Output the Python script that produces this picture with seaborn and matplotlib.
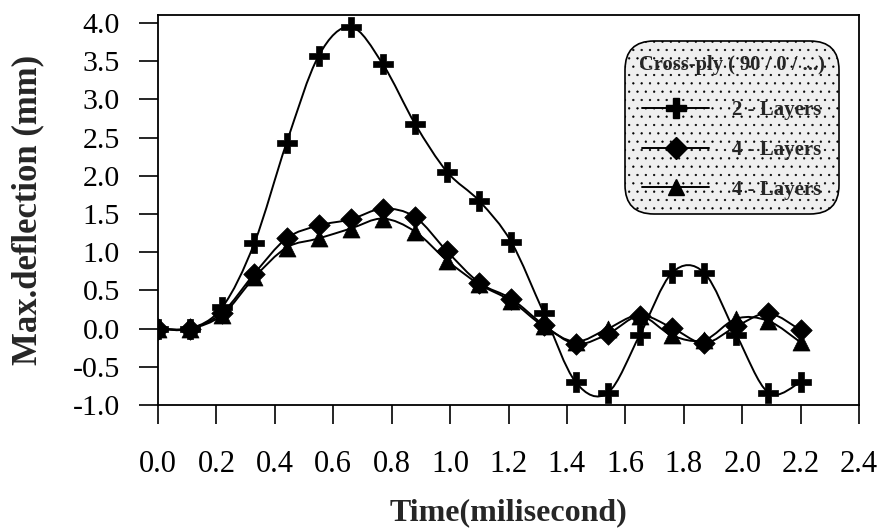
import numpy as np
import pandas as pd
import matplotlib
matplotlib.use("Agg")
import matplotlib.pyplot as plt
import seaborn as sns
from matplotlib.path import Path
from matplotlib.patches import PathPatch
from matplotlib.lines import Line2D

time_ms = [0.0, 0.11, 0.22, 0.33, 0.44, 0.55, 0.66, 0.77, 0.88, 0.99, 1.10,
           1.21, 1.32, 1.43, 1.54, 1.65, 1.76, 1.87, 1.98, 2.09, 2.20]
layers2 = [0.0, 0.0, 0.28, 1.12, 2.43, 3.57, 3.95, 3.46, 2.68, 2.05, 1.67,
           1.13, 0.21, -0.70, -0.84, -0.08, 0.73, 0.73, -0.08, -0.84, -0.70]
layers4a = [0.0, 0.0, 0.21, 0.72, 1.18, 1.35, 1.43, 1.57, 1.46, 1.01, 0.60,
            0.39, 0.05, -0.20, -0.07, 0.17, 0.01, -0.19, 0.03, 0.20, -0.02]
layers4b = [0.0, 0.0, 0.18, 0.67, 1.06, 1.18, 1.31, 1.44, 1.27, 0.89, 0.58,
            0.36, 0.03, -0.17, 0.00, 0.17, -0.09, -0.15, 0.13, 0.10, -0.18]
series_labels = ["2 - Layers", "4 - Layers", "4 - Layers "]
legend_title = "Cross-ply ( 90 / 0 / ...)"
x_ticks = [0.0, 0.2, 0.4, 0.6, 0.8, 1.0, 1.2, 1.4, 1.6, 1.8, 2.0, 2.2, 2.4]
y_ticks = [-1.0, -0.5, 0.0, 0.5, 1.0, 1.5, 2.0, 2.5, 3.0, 3.5, 4.0]

df = pd.DataFrame({
    "time": time_ms * 3,
    "defl": layers2 + layers4a + layers4b,
    "series": [series_labels[0]] * len(time_ms) + [series_labels[1]] * len(time_ms)
              + [series_labels[2]] * len(time_ms),
})

sns.set_theme(style="white")
plt.rcParams["font.family"] = ["Liberation Serif", "DejaVu Serif"]
plt.rcParams["hatch.color"] = "#c8c8c8"
plt.rcParams["hatch.linewidth"] = 0.4

fig = plt.figure(figsize=(8.81, 5.31), dpi=100)
ax = fig.add_axes([158 / 881, 1 - 405 / 531, (859 - 158) / 881, (405 - 15) / 531])


def smooth_path(xs, ys):
    pts = np.column_stack([xs, ys]).astype(float)
    n = len(pts)
    verts = [pts[0]]
    codes = [Path.MOVETO]
    for i in range(n - 1):
        p0 = pts[i - 1] if i > 0 else pts[i]
        p1 = pts[i]
        p2 = pts[i + 1]
        p3 = pts[i + 2] if i + 2 < n else pts[i + 1]
        c1 = p1 + (p2 - p0) / 6.0
        c2 = p2 - (p3 - p1) / 6.0
        verts += [c1, c2, p2]
        codes += [Path.CURVE4] * 3
    return Path(verts, codes)


for ys in (layers2, layers4a, layers4b):
    ax.add_patch(PathPatch(smooth_path(time_ms, ys), facecolor="none",
                           edgecolor="black", lw=1.4, zorder=2))

markers = {series_labels[0]: "P", series_labels[1]: "D", series_labels[2]: "^"}
sizes = {series_labels[0]: 200, series_labels[1]: 120, series_labels[2]: 150}
for lab in series_labels:
    sub = df[df["series"] == lab]
    sns.scatterplot(data=sub, x="time", y="defl", marker=markers[lab],
                    s=sizes[lab], color="black", edgecolor="black",
                    linewidth=0.5, ax=ax, legend=False, zorder=3)

ax.set_xlim(0, 2.4)
ax.set_ylim(-1.0, 4.105)
ax.set_xticks(x_ticks)
ax.set_xticklabels([f"{v:.1f}" for v in x_ticks])
ax.set_yticks(y_ticks)
ax.set_yticklabels([f"{v:.1f}" for v in y_ticks])
ax.tick_params(axis="both", direction="out", length=13.5, width=1.2,
               color="black", labelcolor="black", left=True, bottom=True)
ax.tick_params(axis="y", labelsize=21.5, pad=14)
ax.tick_params(axis="x", labelsize=22, pad=19)
for sp in ax.spines.values():
    sp.set_color("black")
    sp.set_linewidth(1.3)

ax.set_xlabel("Time(milisecond)", fontsize=23, fontweight="bold", labelpad=14)
ax.set_ylabel("Max.deflection (mm)", fontsize=25, fontweight="bold", labelpad=20)

handles = [
    Line2D([], [], color="black", lw=1.4, marker="P", markersize=15, markerfacecolor="black"),
    Line2D([], [], color="black", lw=1.4, marker="D", markersize=11, markerfacecolor="black"),
    Line2D([], [], color="black", lw=1.4, marker="^", markersize=12, markerfacecolor="black"),
]
leg = ax.legend(handles, [s.strip() for s in series_labels], title=legend_title,
                loc="upper right", bbox_to_anchor=((839 - 158) / 701, (405 - 41) / 390),
                borderaxespad=0,
                frameon=True, fancybox=True, handlelength=3.2, handletextpad=1.1,
                labelspacing=0.95, borderpad=0.68, prop={"weight": "bold", "size": 15},
                title_fontproperties={"weight": "bold", "size": 14.8})
leg._legend_box.sep = 18
fr = leg.get_frame()
fr.set_facecolor("#efefef")
fr.set_edgecolor("black")
fr.set_linewidth(1.2)
fr.set_alpha(1)
fr.set_hatch("..")
fr.set_boxstyle("round,pad=0,rounding_size=1.4")

fig.savefig("out.png", dpi=100, facecolor="white")
